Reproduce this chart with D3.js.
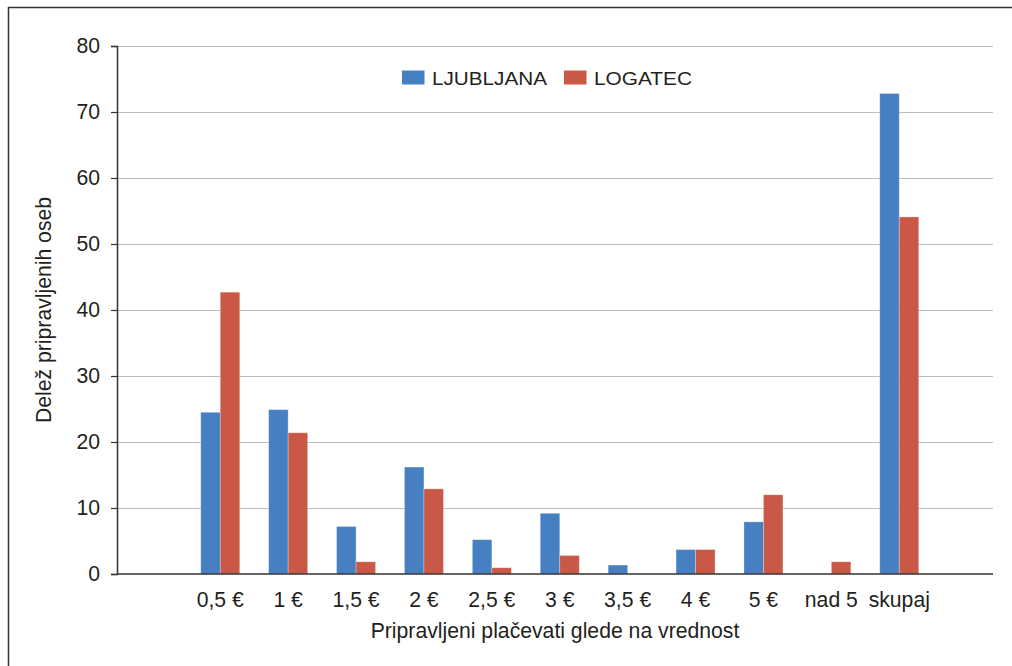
<!DOCTYPE html>
<html>
<head>
<meta charset="utf-8">
<script src="https://cdn.jsdelivr.net/npm/d3@7"></script>
<style>
  html, body { margin: 0; padding: 0; background: #fff; }
  svg { display: block; font-family: "Liberation Sans", Arial, sans-serif; }
</style>
</head>
<body>
<svg id="chart" width="1012" height="666"></svg>
<script>
const categories = ["", "0,5 €", "1 €", "1,5 €", "2 €", "2,5 €", "3 €", "3,5 €", "4 €", "5 €", "nad 5", "skupaj", " "];
const seriesNames = ["LJUBLJANA", "LOGATEC"];
const ljubljana = [null, 24.5, 24.9, 7.2, 16.2, 5.2, 9.2, 1.35, 3.7, 7.9, 0, 72.8, null];
const logatec   = [null, 42.7, 21.4, 1.85, 12.9, 0.95, 2.8, 0, 3.7, 12.0, 1.85, 54.1, null];
const yTicks = [0, 10, 20, 30, 40, 50, 60, 70, 80];
const colors = ["#4680C2", "#C95846"];

const svg = d3.select("#chart");
const plot = { left: 117, right: 993, top: 46, bottom: 574 };
const FS = 21.2;

// frame
svg.append("line").attr("x1", 8.5).attr("x2", 8.5).attr("y1", 7).attr("y2", 666)
  .attr("stroke", "#333").attr("stroke-width", 1.5);
svg.append("line").attr("x1", 8).attr("x2", 1012).attr("y1", 7.5).attr("y2", 7.5)
  .attr("stroke", "#333").attr("stroke-width", 1.5);

const y = d3.scaleLinear().domain([0, 80]).range([plot.bottom, plot.top]);
const step = 67.9;
const x = d3.scaleBand().domain(categories)
  .range([118.4, 118.4 + step * categories.length])
  .paddingInner(1 - 39 / step).paddingOuter((1 - 39 / step) / 2);
const xs = d3.scaleBand().domain(seriesNames).range([0, x.bandwidth()]);

// gridlines
svg.append("g").selectAll("line").data(yTicks.filter(d => d > 0)).join("line")
  .attr("x1", plot.left).attr("x2", plot.right)
  .attr("y1", d => y(d) + 0.5).attr("y2", d => y(d) + 0.5)
  .attr("stroke", "#bdbdbd").attr("stroke-width", 1.2);

// y axis
const yAxis = svg.append("g").attr("transform", `translate(${plot.left},0)`)
  .call(d3.axisLeft(y).tickValues(yTicks).tickSize(6).tickPadding(11).tickFormat(d3.format("d")));
yAxis.select(".domain").attr("stroke", "#333").attr("stroke-width", 1.5);
yAxis.selectAll(".tick line").attr("stroke", "#333").attr("stroke-width", 1.2);
yAxis.selectAll("text").attr("font-size", FS).attr("fill", "#231f20")
  .attr("font-family", "Liberation Sans, Arial, sans-serif");

// bars
const data = categories.map((c, i) => ({ c, vals: [ljubljana[i], logatec[i]] }));
const groups = svg.append("g").selectAll("g").data(data).join("g")
  .attr("transform", d => `translate(${x(d.c)},0)`);
groups.selectAll("rect")
  .data(d => d.vals.map((v, j) => ({ v, s: seriesNames[j], j })).filter(e => e.v))
  .join("rect")
  .attr("x", e => xs(e.s))
  .attr("width", xs.bandwidth())
  .attr("y", e => y(e.v))
  .attr("height", e => y(0) - y(e.v))
  .attr("fill", e => colors[e.j])
  .attr("stroke", "rgba(255,255,255,0.35)").attr("stroke-width", 0.8);

// x axis line
svg.append("line").attr("x1", plot.left).attr("x2", plot.right)
  .attr("y1", plot.bottom).attr("y2", plot.bottom)
  .attr("stroke", "#333").attr("stroke-width", 1.5);

// x labels
svg.append("g").selectAll("text").data(categories.filter(c => c.trim() !== "")).join("text")
  .attr("x", d => x(d) + x.bandwidth() / 2)
  .attr("y", 607)
  .attr("text-anchor", "middle")
  .attr("font-size", FS).attr("fill", "#231f20")
  .text(d => d);

// axis titles
svg.append("text").attr("x", (plot.left + plot.right) / 2).attr("y", 638)
  .attr("text-anchor", "middle").attr("font-size", FS).attr("fill", "#231f20")
  .text("Pripravljeni plačevati glede na vrednost");
svg.append("text").attr("transform", `translate(51,${(plot.top + plot.bottom) / 2}) rotate(-90)`)
  .attr("text-anchor", "middle").attr("font-size", FS).attr("fill", "#231f20")
  .text("Delež pripravljenih oseb");

// legend
const legend = svg.append("g");
const legendItems = [
  { name: seriesNames[0], color: colors[0], x: 402, tl: 115 },
  { name: seriesNames[1], color: colors[1], x: 564, tl: 98 }
];
legendItems.forEach(it => {
  legend.append("rect").attr("x", it.x).attr("y", 70.5).attr("width", 22.5).attr("height", 14)
    .attr("fill", it.color);
  legend.append("text").attr("x", it.x + 30).attr("y", 84.7)
    .attr("font-size", 18).attr("fill", "#231f20")
    .attr("textLength", it.tl).attr("lengthAdjust", "spacingAndGlyphs")
    .text(it.name);
});
</script>
</body>
</html>
